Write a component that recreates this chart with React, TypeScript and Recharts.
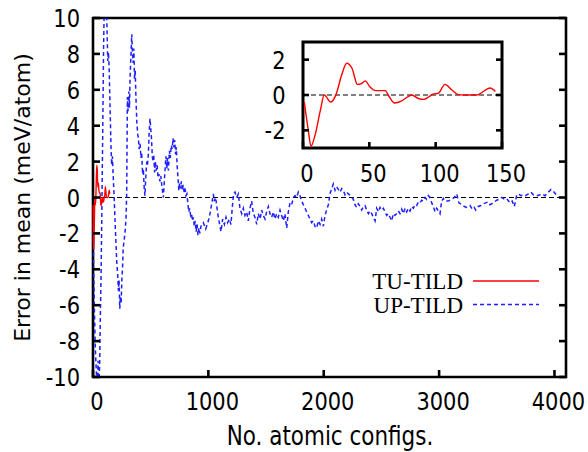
import { LineChart, Line, XAxis, YAxis, ReferenceLine, ReferenceArea, Legend } from "recharts";

// UP-TILD running error vs number of configs (blue dashed)
const upConfigs = [
  2, 5, 12, 20, 28, 36, 44, 50, 58, 64, 70, 76, 84, 92, 100, 108, 116, 122, 128, 134,
  140, 148, 156, 162, 168, 174, 182, 190, 198, 206, 214, 220, 226, 232, 238, 244, 250, 256, 262, 270,
  278, 286, 292, 298, 304, 310, 316, 322, 330, 336, 342, 348, 354, 360, 366, 372, 380, 388, 394, 400,
  408, 416, 422, 430, 436, 444, 450, 458, 466, 472, 480, 486, 494, 500, 506, 514, 520, 526, 534, 540,
  548, 556, 564, 572, 580, 588, 596, 604, 610, 618, 626, 632, 640, 646, 654, 662, 670, 678, 686, 694,
  700, 708, 716, 722, 730, 738, 744, 750, 758, 766, 774, 782, 790, 798, 806, 814, 822, 830, 838, 846,
  854, 862, 870, 878, 886, 894, 902, 910, 918, 926,
  936, 956, 977, 1000, 1014, 1028, 1043, 1051, 1063, 1075, 1086, 1101, 1109, 1124, 1139, 1153, 1167, 1182, 1196, 1208,
  1219, 1231, 1245, 1260, 1274, 1289, 1303, 1317, 1332, 1346, 1361, 1375, 1390, 1404, 1419, 1433, 1448, 1462, 1476, 1491,
  1505, 1520, 1534, 1549, 1563, 1577, 1592, 1606, 1621, 1635, 1650, 1664, 1679, 1693, 1708, 1722, 1737, 1751, 1765, 1780,
  1794, 1809, 1823, 1838, 1852, 1867, 1881, 1895, 1910, 1924, 1939, 1953, 1968, 1982, 1997, 2011, 2025, 2040,
  2054, 2069, 2083, 2098, 2112, 2126, 2141, 2156, 2170, 2184, 2199, 2213, 2236, 2256, 2271, 2285, 2300, 2314, 2329, 2343,
  2358, 2372, 2387, 2401, 2416, 2430, 2445, 2459, 2474, 2488, 2502, 2517, 2531, 2546, 2560, 2574, 2589, 2603, 2618, 2632,
  2647, 2661, 2676, 2690, 2705, 2719, 2733, 2748, 2762, 2777, 2791, 2806, 2820, 2834, 2849, 2863, 2878, 2892, 2907, 2921,
  2936, 2950, 2965, 2979, 2994, 3008, 3022, 3037, 3051,
  3080, 3109, 3132, 3152, 3172, 3196, 3219, 3239, 3268, 3288, 3305, 3317, 3340, 3363, 3383, 3404, 3427, 3441, 3456, 3479,
  3499, 3519, 3543, 3566, 3585, 3614, 3634, 3652, 3672, 3686, 3710, 3730, 3750, 3773, 3796, 3817, 3846, 3875, 3895, 3918,
  3947, 3970, 3990, 4010, 4033,
];
const upError = [
  -1.5, -3.5, -6.2, -8.4, -9.6, -10.8, -9.1, -10.9, -9.2, -6.5, -4.3, -1.2, 3.5, 8.5, 11.5, 12.5, 11, 9.2, 7.6, 8.1,
  7.2, 5.0, 2.8, 1.8, 2.3, 1.4, 0.2, -1.1, -2.4, -3.6, -4.3, -5.2, -4.6, -6.2, -5.5, -5.9, -4.6, -3.9, -2.8, -2.4,
  -1.9, -1.2, 0.2, 5.6, 4.8, 5.9, 5.0, 6.8, 8.1, 9.1, 8.0, 7.5, 8.3, 6.6, 7.1, 5.6, 4.2, 3.5, 3.3, 2.7,
  3.0, 2.2, 2.5, 1.3, 1.6, 0.5, 0.1, 1.2, 2.0, 1.8, 2.4, 3.5, 4.4, 3.9, 3.4, 2.3, 2.0, 2.4, 1.4, 2.0,
  1.5, 1.8, 1.1, 1.3, 0.9, 1.2, 0.7, 0.3, 0.0, 0.9, 1.7, 2.3, 1.6, 2.2, 1.5, 2.6, 2.2, 2.9, 2.7, 3.3,
  2.8, 3.2, 2.4, 2.8, 1.7, 1.0, 0.4, 0.8, 0.5, 0.9, 0.4, 0.7, 0.3, 0.5, 0.1, 0.2, -0.3, -0.8, -0.6, -1.0,
  -0.9, -1.3, -1.1, -1.6, -1.3, -1.9, -1.5, -2.1, -1.7, -2.0,
  -1.6, -1.4, -1.75, -1.3, -0.9, -0.4, 0.2, -0.2, 0.0, -0.6, -1.1, -1.6, -1.9, -1.2, -1.5, -1.1, -1.4, -1.2, -1.5, -0.5,
  0.2, 0.3, 0.0, 0.2, -0.6, -0.9, -0.6, -1.0, -0.8, -1.3, -0.6, -0.2, -0.9, -1.1, -1.5, -0.9, -1.2, -0.7, -1.0, -1.2,
  -0.8, -0.5, -0.9, -1.1, -0.8, -1.2, -0.9, -1.1, -0.7, -1.0, -1.3, -0.9, -1.7, -0.8, -0.3, -0.4, 0.0, 0.1, 0.0, 0.3,
  0.1, -0.2, -0.4, -0.6, -0.8, -1.0, -1.2, -1.4, -1.3, -1.6, -1.7, -1.3, -1.5, -1.2, -1.6, -1.0, -0.7, -0.4,
  0.2, 0.5, 0.75, 0.4, 0.6, 0.45, 0.3, 0.5, 0.4, 0.15, 0.3, 0.2, 0.1, -0.1, -0.4, -0.55, -0.35, -0.5, -0.7, -0.5,
  -0.45, -0.7, -0.9, -0.75, -0.9, -1.1, -1.3, -0.6, -0.8, -0.55, -0.7, -0.6, -0.8, -1.0, -0.9, -1.1, -1.3, -0.9, -1.0, -0.9,
  -0.75, -0.9, -0.65, -0.9, -0.6, -0.8, -0.6, -0.75, -0.5, -0.6, -0.4, -0.45, -0.25, -0.3, -0.15, -0.2, 0.0, -0.1, 0.1, 0.0,
  -0.3, -0.5, -0.8, -0.6, -0.75, -0.9, -0.2, -0.05, -0.2,
  -0.2, -0.1, 0.0, 0.2, -0.3, -0.4, -0.5, -0.55, -0.45, -0.65, -0.55, -0.7, -0.5, -0.45, -0.35, -0.3, -0.25, -0.4, -0.35, -0.25,
  -0.15, -0.1, 0.0, -0.1, -0.05, -0.3, -0.2, -0.5, 0.1, 0.2, 0.1, 0.15, 0.1, 0.2, 0.3, 0.15, 0.1, 0.15, 0.2, 0.1,
  0.3, 0.45, 0.35, 0.2, 0.0,
];

// TU-TILD running error (red solid)
const tuConfigs = [
  1, 4, 6, 9, 13, 16, 21, 25, 29, 33, 37, 41, 44, 47, 50, 55, 62, 65, 69, 74,
  78, 82, 87, 91, 95, 98, 102, 107, 112, 117, 121, 131, 135, 139, 141, 145,
];
const tuError = [
  -0.4, -2.0, -2.9, -2.3, -0.9, 0.0, -0.4, 0.05, 1.1, 1.8, 1.5, 0.6, 0.65, 0.8, 0.5, 0.25, 0.25, -0.1, -0.45, -0.35,
  -0.15, 0.0, -0.2, -0.25, -0.1, 0.05, 0.1, 0.6, 0.3, 0.02, 0.0, 0.0, 0.15, 0.35, 0.4, 0.2,
];

const mainXTicks = [0, 1000, 2000, 3000, 4000];
const mainYTicks = [-10, -8, -6, -4, -2, 0, 2, 4, 6, 8, 10];
const insetXTicks = [0, 50, 100, 150];
const insetYTicks = [-2, 0, 2];

const upData = upConfigs.map((n, i) => ({ n, err: upError[i] }));
const tuData = tuConfigs.map((n, i) => ({ n, err: tuError[i] }));

const SANS = "DejaVu Sans";
const SERIF = "Liberation Serif";
const STRETCH = 1.2; // gnuplot text is a bit taller than it is wide
const BLUE = "#1f1fff";
const RED = "#ff0000";
const FRAME = 2.6;

type TickProps = { x?: number; y?: number; payload?: { value: number | string } };

// gnuplot-style tick: inward mark (+ mirrored mark on the far side for y) and a label
function bottomTick(len: number, dx: number, dy: number) {
  return (p: TickProps) => (
    <g transform={`translate(${p.x ?? 0},${p.y ?? 0})`}>
      <line x1={0} y1={0} x2={0} y2={-len} stroke="#000" strokeWidth={FRAME} />
      <g transform={`translate(${dx},${dy}) scale(1,${STRETCH})`}>
        <text textAnchor="middle" fontFamily={SANS} fontSize={21} fill="#000">
          {p.payload?.value}
        </text>
      </g>
    </g>
  );
}

function leftTick(len: number, span: number, dx: number, dy: number) {
  return (p: TickProps) => (
    <g transform={`translate(${p.x ?? 0},${p.y ?? 0})`}>
      <line x1={0} y1={0} x2={len} y2={0} stroke="#000" strokeWidth={FRAME} />
      <line x1={span} y1={0} x2={span - len} y2={0} stroke="#000" strokeWidth={FRAME} />
      <g transform={`translate(${dx},${dy}) scale(1,${STRETCH})`}>
        <text textAnchor="end" fontFamily={SANS} fontSize={21} fill="#000">
          {p.payload?.value}
        </text>
      </g>
    </g>
  );
}

function LegendBox(props: any) {
  const items = [...(props.payload ?? [])].sort((a: any, b: any) =>
    String(a.value).localeCompare(String(b.value))
  );
  return (
    <svg width={200} height={60} style={{ display: "block" }}>
      {items.map((it: any, i: number) => (
        <g key={it.value} transform={`translate(0,${i * 23.5})`}>
          <text x={103} y={28} textAnchor="end" fontFamily={SERIF} fontSize={23} fill="#000">
            {it.value}
          </text>
          <line
            x1={113}
            x2={179}
            y1={20}
            y2={20}
            stroke={it.color}
            strokeWidth={1.4}
            strokeDasharray={it.payload?.strokeDasharray}
          />
        </g>
      ))}
    </svg>
  );
}

function MainChart() {
  return (
    <LineChart width={588} height={452} margin={{ top: 18, right: 22, bottom: 0, left: 0 }}>
      <XAxis
        dataKey="n"
        type="number"
        domain={[0, 4100]}
        ticks={mainXTicks}
        height={75}
        axisLine={false}
        tickLine={false}
        tickSize={0}
        tickMargin={0}
        tick={bottomTick(7, 4, 33)}
        label={{
          content: () => (
            <g transform={`translate(330,445) scale(1,${STRETCH})`}>
              <text textAnchor="middle" fontFamily={SANS} fontSize={21.5} fill="#000">
                No. atomic configs.
              </text>
            </g>
          ),
        }}
      />
      <YAxis
        type="number"
        domain={[-10, 10]}
        allowDataOverflow
        ticks={mainYTicks}
        width={93}
        axisLine={false}
        tickLine={false}
        tickSize={0}
        tickMargin={0}
        tick={leftTick(7, 473, -13, 9)}
        label={{
          content: () => (
            <text
              transform="translate(30,197.5) rotate(-90)"
              textAnchor="middle"
              fontFamily={SANS}
              fontSize={22}
              fill="#000"
            >
              Error in mean (meV/atom)
            </text>
          ),
        }}
      />
      <ReferenceLine y={0} stroke="#000" strokeWidth={1.2} strokeDasharray="5 3" />
      <Line
        data={upData}
        dataKey="err"
        name="UP-TILD"
        type="linear"
        stroke={BLUE}
        strokeWidth={1.5}
        strokeDasharray="4 3"
        dot={false}
        activeDot={false}
        isAnimationActive={false}
      />
      <Line
        data={tuData}
        dataKey="err"
        name="TU-TILD"
        type="monotone"
        stroke={RED}
        strokeWidth={1.4}
        dot={false}
        activeDot={false}
        isAnimationActive={false}
      />
      {/* plot frame */}
      <ReferenceArea
        x1={0}
        x2={4100}
        y1={-10}
        y2={10}
        fill="none"
        fillOpacity={0}
        stroke="#000"
        strokeWidth={FRAME}
        strokeOpacity={1}
      />
      <Legend
        layout="vertical"
        align="center"
        verticalAlign="middle"
        content={LegendBox}
        wrapperStyle={{ left: 360, top: 261, width: 200, height: 60 }}
      />
    </LineChart>
  );
}

function InsetChart() {
  return (
    <LineChart width={300} height={160} margin={{ top: 12, right: 48, bottom: 0, left: 0 }}>
      <XAxis
        dataKey="n"
        type="number"
        domain={[0, 150]}
        ticks={insetXTicks}
        height={42}
        axisLine={false}
        tickLine={false}
        tickSize={0}
        tickMargin={0}
        tick={bottomTick(6, 4, 33.7)}
      />
      <YAxis
        type="number"
        domain={[-3, 3]}
        allowDataOverflow
        ticks={insetYTicks}
        width={53}
        axisLine={false}
        tickLine={false}
        tickSize={0}
        tickMargin={0}
        tick={leftTick(6, 199, -17.5, 9)}
      />
      <ReferenceLine y={0} stroke="#000" strokeWidth={1.2} strokeDasharray="5 3" />
      <Line
        data={tuData}
        dataKey="err"
        name="TU-TILD"
        type="monotone"
        stroke={RED}
        strokeWidth={1.4}
        dot={false}
        activeDot={false}
        isAnimationActive={false}
      />
      <ReferenceArea
        x1={0}
        x2={150}
        y1={-3}
        y2={3}
        fill="none"
        fillOpacity={0}
        stroke="#000"
        strokeWidth={FRAME + 0.4}
        strokeOpacity={1}
      />
    </LineChart>
  );
}

export default function App() {
  return (
    <div style={{ position: "absolute", left: 0, top: 0, width: 588, height: 452, background: "#fff" }}>
      <MainChart />
      <div style={{ position: "absolute", left: 250, top: 30 }}>
        <InsetChart />
      </div>
    </div>
  );
}
